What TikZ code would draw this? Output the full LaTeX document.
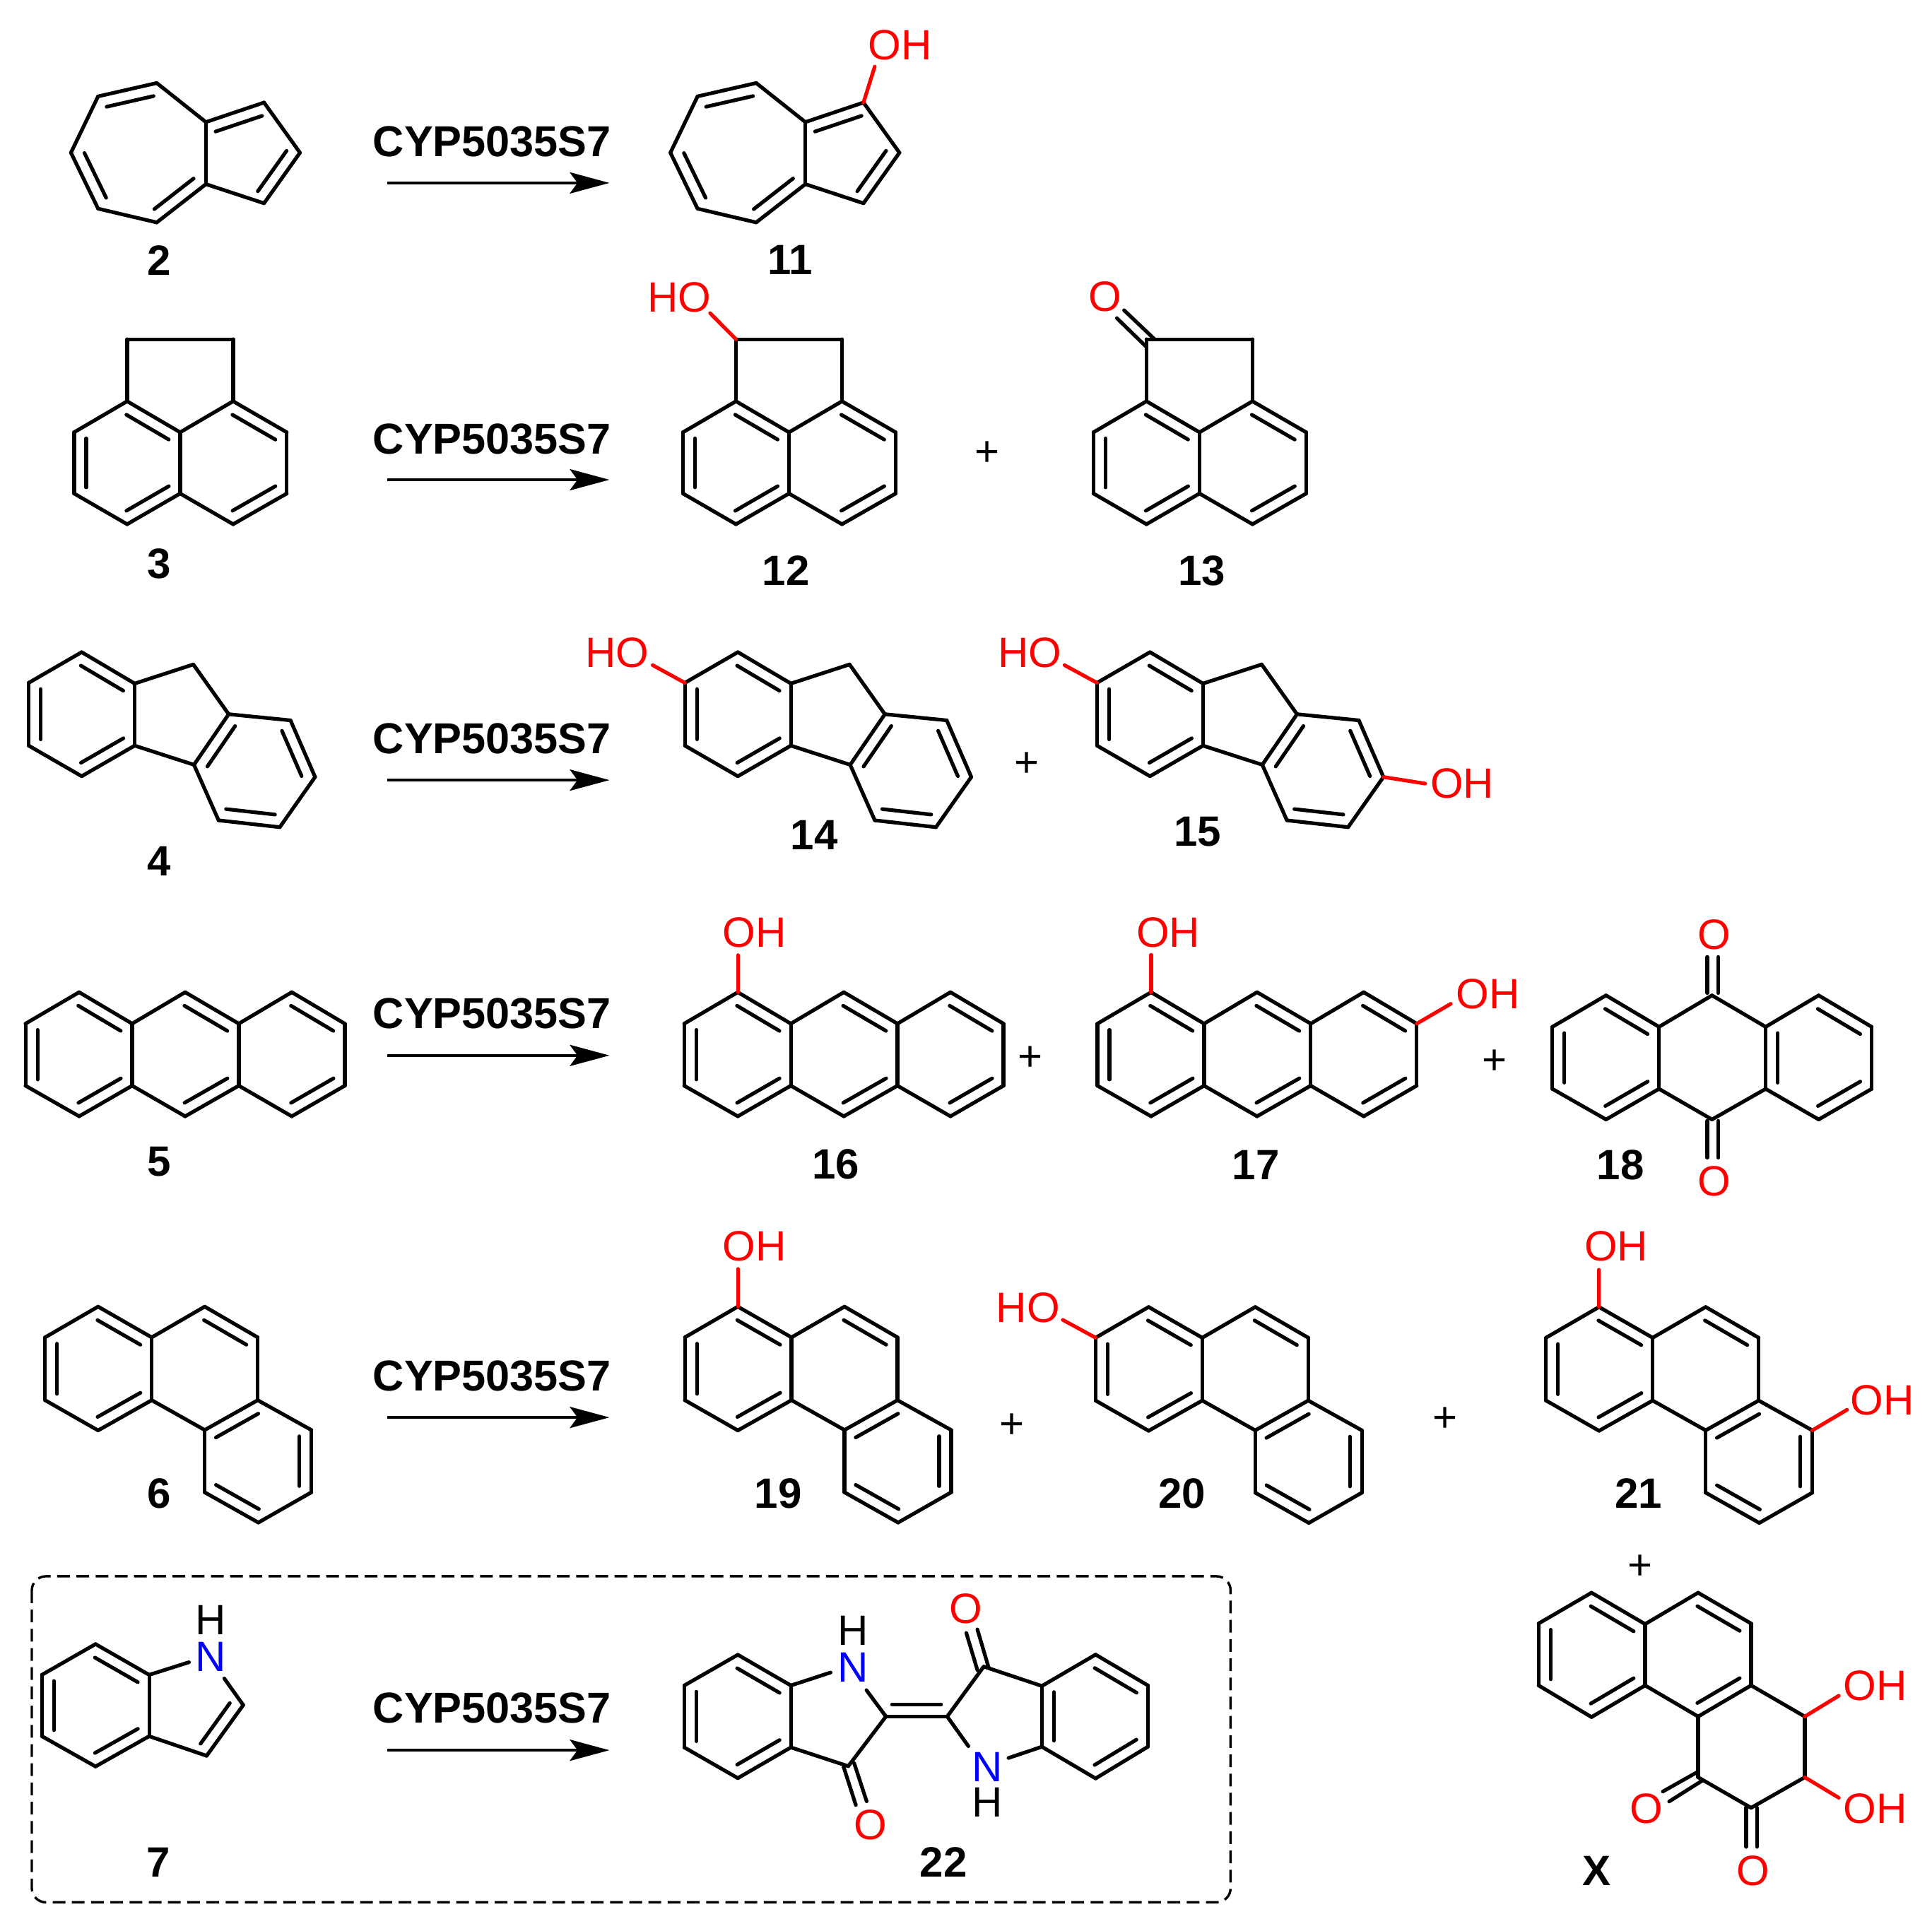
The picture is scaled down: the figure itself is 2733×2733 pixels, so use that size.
\documentclass[tikz,border=0pt]{standalone}
\usepackage{fontspec}
\setmainfont{Liberation Sans}
\usetikzlibrary{calc,arrows.meta}
\definecolor{atomred}{RGB}{255,0,0}
\definecolor{atomblue}{RGB}{0,0,255}
\tikzset{
  bond/.style={draw=black,line width=1.3pt,line cap=round,line join=round},
  redbond/.style={draw=atomred,line width=1.3pt,line cap=round},
  rxn/.style={draw=black,line width=1pt,-{Stealth[length=14pt,width=7.5pt,inset=2.7pt]}},
  cmpd/.style={font=\bfseries\fontsize{15}{15}\selectfont,inner sep=0pt,text=black},
  enz/.style={font=\bfseries\fontsize{15.3}{15.3}\selectfont,inner sep=0pt,text=black},
  redatom/.style={font=\fontsize{15}{15}\selectfont,inner sep=0pt,text=atomred},
  blueatom/.style={font=\fontsize{15}{15}\selectfont,inner sep=0pt,text=atomblue},
  blackatom/.style={font=\fontsize{15}{15}\selectfont,inner sep=0pt,text=black},
  plussign/.style={font=\fontsize{15}{15}\selectfont,inner sep=0pt,text=black,yshift=-1pt},
  dashbox/.style={draw=black,line width=0.85pt,dash pattern=on 4.5pt off 2.3pt,rounded corners=5pt}
}
\newcommand{\sgl}[2]{\draw[bond] (#1)--(#2);}
\newcommand{\dbl}[2]{\draw[bond] (#1)--(#2);
  \draw[bond] ($(#1)!.1!(#2)!4.25pt!-90:(#2)$)--($(#1)!.9!(#2)!4.25pt!-90:(#2)$);}
\newcommand{\pts}[1]{\foreach \n/\xx/\yy in {#1}{\coordinate (\n) at (\xx,\yy);}}
\newcommand{\azulene}{%
  \pts{A/221.4/117.1,B/138.4/136,C/100/215.7,D/138.4/294.9,E/221.4/314.4,F/291/260.2,G/291/172.4,H/373.2/144.7,I/424.1/215.7,J/373.2/287.3}
  \dbl{B}{A}\sgl{A}{G}\sgl{G}{F}\dbl{F}{E}\sgl{E}{D}\dbl{D}{C}\sgl{C}{B}
  \dbl{G}{H}\sgl{H}{I}\dbl{I}{J}\sgl{J}{F}}
\newcommand{\acenap}{%
  \pts{t1/179.5/479.7,t2/329.5/479.7,u1/179.5/567.5,u2/329.5/567.5,c1/254.5/611.4,c2/254.5/698.1,l1/104.5/611.4,l2/104.5/698.1,b1/179.5/741.5,r1/405.4/611.4,r2/405.4/698.1,b2/329.5/741.5}
  \sgl{t1}{t2}\sgl{t1}{u1}\sgl{t2}{u2}
  \dbl{u1}{c1}\dbl{c2}{b1}\dbl{l2}{l1}\dbl{u2}{r1}\dbl{r2}{b2}
  \sgl{c1}{c2}\sgl{c1}{u2}\sgl{l1}{u1}\sgl{b1}{l2}\sgl{c2}{b2}\sgl{r1}{r2}}
\newcommand{\fluorene}{%
  \pts{a/115.2/922.6,b/40.2/966,c/40.2/1054.9,d/115.2/1098.2,e/190.2/1054.9,f/190.2/967,g/273.2/940,h/323.2/1010.4,i/274.1/1082,j/410.7/1019.1,k/445.5/1099.3,l/395.5/1170.3,m/308.9/1160.6}
  \dbl{a}{f}\dbl{e}{d}\dbl{c}{b}\sgl{f}{e}\sgl{d}{c}\sgl{b}{a}
  \dbl{i}{h}\dbl{j}{k}\dbl{l}{m}\sgl{h}{j}\sgl{k}{l}\sgl{m}{i}
  \sgl{f}{g}\sgl{g}{h}\sgl{i}{e}}
\newcommand{\anthpts}{%
  \pts{t1/111.6/1403.9,t2/261.6/1403.9,t3/412.5/1403.9,u0/35.7/1448.4,u1/186.6/1448.4,u2/337.5/1448.4,u3/487.5/1448.4,d0/35.7/1536.2,d1/186.6/1536.2,d2/337.5/1536.2,d3/487.5/1536.2,b1/111.6/1579.5,b2/261.6/1579.5,b3/412.5/1579.5}}
\newcommand{\anthracene}{%
  \anthpts
  \dbl{t1}{u1}\dbl{d1}{b1}\dbl{d0}{u0}\dbl{t2}{u2}\dbl{d2}{b2}\dbl{t3}{u3}\dbl{d3}{b3}
  \sgl{u0}{t1}\sgl{u1}{d1}\sgl{b1}{d0}\sgl{u1}{t2}\sgl{u2}{d2}\sgl{b2}{d1}\sgl{u2}{t3}\sgl{u3}{d3}\sgl{b3}{d2}}
\newcommand{\phenanthrene}{%
  \pts{a1/138.4/1848.9,a2/63.4/1892.4,a3/63.4/1981.3,a4/138.4/2024.1,a5/214.3/1981.3,a6/214.3/1892.4,b1/289.3/1848.9,b2/364.3/1892.4,b3/364.3/1981.3,b4/289.3/2023.5,c1/440.2/2023.5,c2/440.2/2111.7,c3/365.2/2154.5,c4/289.3/2111.7}
  \dbl{a1}{a6}\dbl{a5}{a4}\dbl{a3}{a2}\dbl{b1}{b2}\dbl{b4}{b3}\dbl{c1}{c2}\dbl{c3}{c4}
  \sgl{a6}{a5}\sgl{a2}{a1}\sgl{a4}{a3}\sgl{a6}{b1}\sgl{b2}{b3}\sgl{a5}{b4}\sgl{b3}{c1}\sgl{c2}{c3}\sgl{c4}{b4}}
\begin{document}
\begin{tikzpicture}[x=0.25pt,y=-0.25pt]
\useasboundingbox (-0.4,-0.4) rectangle (2732.6,2732.6);

% reaction arrows and enzyme labels
\foreach \rr/\ty/\ay in {1/200.5/258.5,2/620.6/678.6,3/1045/1103.7,4/1433.7/1493.4,5/1947/2005.7,6/2417.4/2476.7}{
  \node[enz] (enz\rr) at (696,\ty) {CYP5035S7};
  \coordinate (as\rr) at (547.3,\ay);
  \coordinate (ae\rr) at (862,\ay);
  \draw[rxn] (as\rr) -- (ae\rr);
}

% 2
\azulene
% 11
\begin{scope}[shift={(848.3,0)}]
  \azulene
  \node[redatom] (oh11) at (424.7,63.4) {OH};
  \coordinate (g11) at (389.2,93.8);
  \draw[redbond] (H) -- (g11);
\end{scope}

% 3
\acenap
% 12
\begin{scope}[shift={(861.6,0)}]
  \acenap
  \node[redatom] (oh12) at (99.1,420) {HO};
  \coordinate (g12) at (142.9,442.8);
  \draw[redbond] (t1) -- (g12);
\end{scope}
% 13
\begin{scope}[shift={(1442.5,0)}]
  \acenap
\end{scope}
\node[redatom] (o13) at (1563.3,419.8) {O};
\coordinate (o13a) at (1590.3,438.7); \coordinate (o13b) at (1633.2,479.5);
\coordinate (o13c) at (1580.1,449.9); \coordinate (o13d) at (1622,490.7);
\sgl{o13a}{o13b}\sgl{o13c}{o13d}

% 4
\fluorene
% 14
\begin{scope}[shift={(928.6,0)}]
  \fluorene
  \node[redatom] (oh14) at (-55.4,923.7) {HO};
  \coordinate (g14) at (-5.4,941);
  \draw[redbond] (b) -- (g14);
\end{scope}
% 15
\begin{scope}[shift={(1511.8,0)}]
  \fluorene
  \node[redatom] (oh15) at (-55.2,923.9) {HO};
  \coordinate (g15) at (-5.8,941);
  \draw[redbond] (b) -- (g15);
  \node[redatom] (oh15b) at (557.1,1108.6) {OH};
  \coordinate (g15b) at (504.5,1108.6);
  \draw[redbond] (k) -- (g15b);
\end{scope}

% 5
\anthracene
% 16
\begin{scope}[shift={(932.1,0)}]
  \anthracene
  \node[redatom] (oh16) at (134.9,1319.4) {OH};
  \coordinate (g16) at (111.6,1351.4);
  \draw[redbond] (t1) -- (g16);
\end{scope}
% 17
\begin{scope}[shift={(1516.9,0)}]
  \anthracene
  \node[redatom] (oh17) at (135.7,1319) {OH};
  \coordinate (g17) at (111.6,1351);
  \draw[redbond] (t1) -- (g17);
  \node[redatom] (oh17b) at (588.4,1406.4) {OH};
  \coordinate (g17b) at (535.7,1420.3);
  \draw[redbond] (u3) -- (g17b);
\end{scope}
% 18
\begin{scope}[shift={(2160.7,4.5)}]
  \anthpts
  \dbl{t1}{u1}\dbl{d1}{b1}\dbl{d0}{u0}\dbl{t3}{u3}\dbl{d3}{b3}\dbl{d2}{u2}
  \sgl{u0}{t1}\sgl{u1}{d1}\sgl{b1}{d0}\sgl{u1}{t2}\sgl{t2}{u2}\sgl{d1}{b2}\sgl{b2}{d2}\sgl{u2}{t3}\sgl{u3}{d3}\sgl{b3}{d2}
\end{scope}
\node[redatom] (o18a) at (2425,1322.7) {O};
\node[redatom] (o18b) at (2425,1671) {O};
\coordinate (q1) at (2415.5,1354); \coordinate (q2) at (2415.5,1405);
\coordinate (q3) at (2431,1354); \coordinate (q4) at (2431,1405);
\coordinate (q5) at (2415.5,1586); \coordinate (q6) at (2415.5,1638);
\coordinate (q7) at (2431,1586); \coordinate (q8) at (2431,1638);
\sgl{q1}{q2}\sgl{q3}{q4}\sgl{q5}{q6}\sgl{q7}{q8}

% 6
\phenanthrene
% 19
\begin{scope}[shift={(905.35,0)}]
  \phenanthrene
  \node[redatom] (oh19) at (161.6,1763.2) {OH};
  \coordinate (g19) at (138.4,1795.5);
  \draw[redbond] (a1) -- (g19);
\end{scope}
% 20
\begin{scope}[shift={(1486.6,0.5)}]
  \phenanthrene
  \node[redatom] (oh20) at (-32.2,1850.1) {HO};
  \coordinate (g20) at (16.9,1867.1);
  \draw[redbond] (a2) -- (g20);
\end{scope}
% 21
\begin{scope}[shift={(2124,0.5)}]
  \phenanthrene
  \node[redatom] (oh21) at (162.6,1762.8) {OH};
  \coordinate (g21) at (138.4,1796.2);
  \draw[redbond] (a1) -- (g21);
  \node[redatom] (oh21b) at (539.4,1981) {OH};
  \coordinate (g21b) at (489.4,1994.3);
  \draw[redbond] (c1) -- (g21b);
\end{scope}

% dashed frame
\coordinate (fr1) at (44.6,2230.5);
\coordinate (fr2) at (1741,2692);
\draw[dashbox] (fr1) rectangle (fr2);

% 7
\pts{p1/134.8/2326.5,p2/58.9/2370,p3/58.9/2456.9,p4/134.8/2499.7,p5/210.7/2456.9,p6/210.7/2370,q1/343.8/2412.8,q2/292/2484.6,n7a/267/2352.2,n7b/317/2375.2}
\dbl{p1}{p6}\dbl{p5}{p4}\dbl{p3}{p2}\sgl{p6}{p5}\sgl{p4}{p3}\sgl{p2}{p1}
\sgl{p6}{n7a}\sgl{n7b}{q1}\dbl{q1}{q2}\sgl{q2}{p5}
\node[blueatom] (n7) at (298.2,2344) {N};
\node[blackatom] (h7) at (298.2,2292) {H};

% 22
\pts{L1/1043.75/2341.6,L2/967.9/2385.1,L3/967.9/2472.7,L4/1043.75/2516.2,L5/1118.8/2472.7,L6/1118.8/2385.1,Ca/1253.3/2429,Cb/1340/2429,Cc/1200/2499.3,Cd/1391.7/2358.3,R1/1550/2341.4,R2/1624/2385,R3/1624/2471.8,R4/1550/2516.6,R5/1474/2471.8,R6/1474/2385.8,na/1175/2366.7,nb/1225.7/2391.7,nc/1370/2471,nd/1426.7/2487.7}
\dbl{L1}{L6}\dbl{L5}{L4}\dbl{L3}{L2}\sgl{L6}{L5}\sgl{L4}{L3}\sgl{L2}{L1}
\sgl{L6}{na}\sgl{nb}{Ca}\dbl{Cb}{Ca}\sgl{Ca}{Cc}\sgl{Cc}{L5}
\sgl{Cb}{Cd}\sgl{Cd}{R6}\dbl{R1}{R2}\dbl{R3}{R4}\dbl{R5}{R6}\sgl{R6}{R1}\sgl{R2}{R3}\sgl{R4}{R5}
\sgl{Cb}{nc}\sgl{R5}{nd}
\node[blueatom] (n22a) at (1206.3,2359.2) {N};
\node[blackatom] (h22a) at (1206.3,2307.8) {H};
\node[blueatom] (n22b) at (1396.4,2500) {N};
\node[blackatom] (h22b) at (1396.4,2550.5) {H};
\node[redatom] (o22a) at (1231,2582.7) {O};
\node[redatom] (o22b) at (1366.3,2276.7) {O};
\pts{e1/1193.3/2500,e2/1210.7/2554.3,e3/1208.3/2495,e4/1226/2549,e5/1367/2310.7,e6/1382.7/2363.3,e7/1382.7/2305.7,e8/1398.7/2360}
\sgl{e1}{e2}\sgl{e3}{e4}\sgl{e5}{e6}\sgl{e7}{e8}

% X
\pts{x1/2251.8/2253.8,x2/2176.8/2297.4,x3/2176.8/2385,x4/2251.8/2429.8,x5/2327.6/2385,x6/2327.6/2298.2,x7/2402.6/2253.8,x8/2477.6/2297.4,x9/2477.6/2385,x10/2402.6/2429,x11/2553.5/2429,x12/2553.5/2515,x13/2477.6/2558.2,x14/2402.6/2515}
\dbl{x1}{x6}\dbl{x5}{x4}\dbl{x3}{x2}\dbl{x7}{x8}\dbl{x9}{x10}
\sgl{x6}{x5}\sgl{x4}{x3}\sgl{x2}{x1}\sgl{x6}{x7}\sgl{x8}{x9}\sgl{x10}{x5}\sgl{x9}{x11}\sgl{x11}{x12}\sgl{x12}{x13}\sgl{x13}{x14}\sgl{x14}{x10}
\node[redatom] (ohx1) at (2653.5,2385.8) {OH};
\node[redatom] (ohx2) at (2653.5,2559.8) {OH};
\node[redatom] (ox1) at (2329.4,2559.8) {O};
\node[redatom] (ox2) at (2480.3,2647) {O};
\pts{gx1/2601.7/2399.6,gx2/2601.7/2544,f1/2402.6/2507,f2/2352.6/2535.2,f3/2408/2520,f4/2361.6/2549.3,f5/2470.5/2558,f6/2470.5/2613.5,f7/2485.7/2558,f8/2485.7/2613.5}
\draw[redbond] (x11) -- (gx1);
\draw[redbond] (x12) -- (gx2);
\sgl{f1}{f2}\sgl{f3}{f4}\sgl{f5}{f6}\sgl{f7}{f8}

% compound numbers
\foreach \nm/\xx/\yy/\tx in {c2/225/368/2,c11/1117.9/367.5/11,c3/225/797.8/3,c12/1111.6/807.6/12,c13/1700/807.6/13,c4/225/1218.6/4,c14/1151.8/1181.7/14,c15/1694/1176.5/15,c5/225/1644/5,c16/1182/1647.8/16,c17/1776.8/1648.2/17,c18/2292.8/1648.2/18,c6/225/2113.7/6,c19/1100.9/2113.7/19,c20/1672.3/2113.6/20,c21/2318/2113.6/21,c7/224/2635.4/7,c22/1334.8/2635.4/22,cX/2259/2647/X}{
  \node[cmpd] (\nm) at (\xx,\yy) {\tx};
}
% plus signs
\foreach \nm/\xx/\yy in {p1/1396.5/638,p2/1452.6/1078,p3/1458/1494,p4/2115/1498.5,p5/1432/2013.6,p6/2044.6/2004.5,p7/2320.5/2213.4}{
  \node[plussign] (plus\nm) at (\xx,\yy) {+};
}
\end{tikzpicture}
\end{document}
